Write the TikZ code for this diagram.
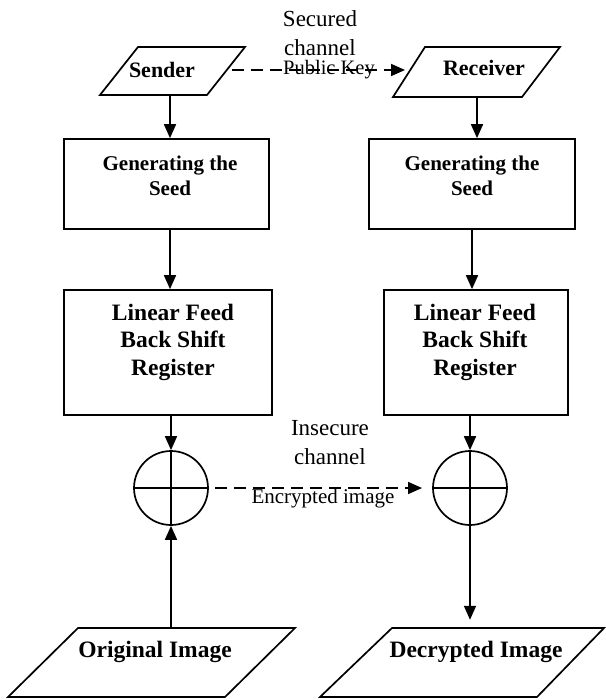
\documentclass[tikz,border=0pt]{standalone}
\usepackage{fontspec}
\setmainfont{Liberation Serif}
\usetikzlibrary{arrows.meta}
\begin{document}
\begin{tikzpicture}[x=1pt,y=-1pt,
  lw/.style={line width=1.7pt},
  boxnode/.style={draw,lw,inner sep=0pt},
  lbl/.style={inner sep=0pt,align=center,font=\bfseries\fontsize{21}{25}\selectfont},
  biglbl/.style={inner sep=0pt,align=center,font=\bfseries\fontsize{23.5}{27.5}\selectfont},
  plain/.style={inner sep=0pt,align=center,font=\fontsize{23}{29}\selectfont},
  small/.style={inner sep=0pt,align=center,font=\fontsize{20.5}{24}\selectfont},
  arr/.style={lw,-{Triangle[length=14pt,width=12pt]}},
  darr/.style={arr,dash pattern=on 12pt off 7pt}]
\useasboundingbox (0,0) rectangle (605,700);
% Sender / Receiver parallelograms
\draw[lw] (100,95) -- (138,47) -- (245,47) -- (207,95) -- cycle;
\node[inner sep=0,minimum width=100,minimum height=48] (sender) at (170,71) {};
\node[biglbl,font=\bfseries\fontsize{22}{26}\selectfont] (sendert) at (162,70) {Sender};
\draw[lw] (393,97) -- (425,47) -- (560,47) -- (522,97) -- cycle;
\node[inner sep=0,minimum width=100,minimum height=50] (receiver) at (477,72) {};
\node[biglbl,font=\bfseries\fontsize{22}{26}\selectfont] (receivert) at (484,68) {Receiver};
% secured channel
\coordinate (sa) at (232,70);
\coordinate (sb) at (405,70);
\draw[darr] (sa) -- (sb);
\node[plain] (secured) at (320,33) {Secured\\channel};
\node[small] (pubkey) at (329,70) {Public Key};
% generating boxes
\node[boxnode,minimum width=205,minimum height=90] (gen1) at (166.5,184) {};
\node[lbl] (gen1t) at (170,176) {Generating the\\Seed};
\node[boxnode,minimum width=206,minimum height=90] (gen2) at (472,184) {};
\node[lbl] (gen2t) at (472,176) {Generating the\\Seed};
% LFSR boxes
\node[boxnode,minimum width=208,minimum height=125] (lf1) at (168,352.5) {};
\node[biglbl] (lf1t) at (173,342) {Linear Feed\\Back Shift\\Register};
\node[boxnode,minimum width=184,minimum height=125] (lf2) at (476,352.5) {};
\node[biglbl] (lf2t) at (475,342) {Linear Feed\\Back Shift\\Register};
% XOR circles
\node[draw,lw,circle,minimum size=74,inner sep=0] (x1) at (171,488) {};
\draw[lw] (x1.north) -- (x1.south) (x1.west) -- (x1.east);
\node[draw,lw,circle,minimum size=74,inner sep=0] (x2) at (470,488) {};
\draw[lw] (x2.north) -- (x2.south) (x2.west) -- (x2.east);
% bottom parallelograms
\draw[lw] (8,697) -- (78,628) -- (295,628) -- (225,697) -- cycle;
\node[inner sep=0,minimum width=150,minimum height=69] (orig) at (151.5,662.5) {};
\node[biglbl] (origt) at (155,652) {Original Image};
\draw[lw] (320,697) -- (392,628) -- (604,628) -- (537,697) -- cycle;
\node[inner sep=0,minimum width=150,minimum height=69] (dec) at (470,662.5) {};
\node[biglbl] (dect) at (476,652) {Decrypted Image};
% connectors
\draw[arr] (170,95) -- (gen1.north -| 170,0);
\draw[arr] (477,97) -- (gen2.north -| 477,0);
\draw[arr] (gen1.south -| 170,0) -- (lf1.north -| 170,0);
\draw[arr] (gen2.south -| 472,0) -- (lf2.north -| 472,0);
\draw[arr] (lf1.south -| x1.north) -- (x1.north);
\draw[arr] (lf2.south -| x2.north) -- (x2.north);
\draw[arr] (orig.north -| x1.south) -- (x1.south);
\draw[arr] (x2.south) -- ([yshift=8pt]dec.north -| x2.south);
\coordinate (ea) at (215,488);
\coordinate (eb) at (422,488);
\draw[darr] (ea) -- (eb);
\node[plain] (insec) at (330,443) {Insecure\\channel};
\node[small,font=\fontsize{21}{24}\selectfont] (encr) at (323,498) {Encrypted image};
\end{tikzpicture}
\end{document}
